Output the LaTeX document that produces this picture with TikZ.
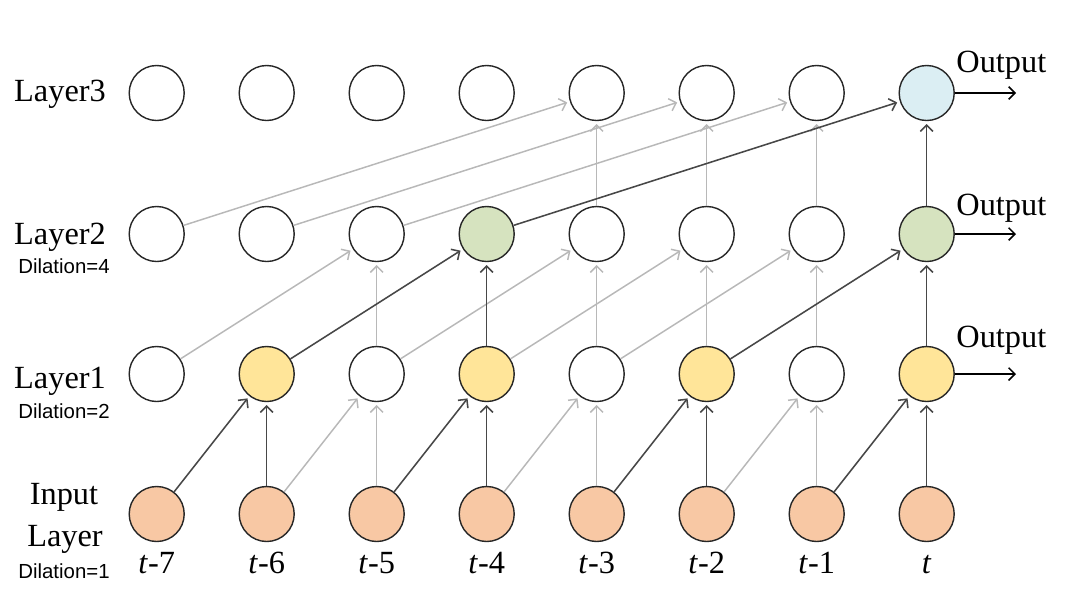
\documentclass[tikz,border=0pt]{standalone}
\usepackage{fontspec}
\setmainfont{Liberation Serif}
\setsansfont{Liberation Sans}
\usetikzlibrary{arrows.meta}
\definecolor{inputfill}{HTML}{F8C8A4}
\definecolor{layeronefill}{HTML}{FFE599}
\definecolor{layertwofill}{HTML}{D6E3BF}
\definecolor{layerthreefill}{HTML}{DBEEF3}

\begin{document}
\begin{tikzpicture}[x=0.025cm,y=-0.025cm,>={Straight Barb[length=4.5pt,width=9pt]},
                    shorten >=2pt,semithick]
  \tikzstyle{unit}=[circle,draw=black!85,fill=white,minimum size=1.375cm,
    inner sep=0pt,line width=1pt]
  \tikzstyle{faint}=[->,draw=black!28,line width=1.05pt]
  \tikzstyle{strong}=[->,draw=black!72,line width=1.1pt]
  \tikzstyle{lbl}=[font=\fontsize{23}{26}\selectfont,anchor=base,inner sep=0pt]
  \tikzstyle{dil}=[font=\sffamily\fontsize{14.5}{16}\selectfont,anchor=base,inner sep=0pt]

  \useasboundingbox (0,0) rectangle (1068,588);

  % units, one row per layer
  \foreach \i/\c in {0/white,1/layeronefill,2/white,3/layeronefill,
                     4/white,5/layeronefill,6/white,7/layeronefill}{
    \node[unit,fill=inputfill] (in\i) at (156.7+110*\i,514) {};
    \node[unit,fill=\c] (ha\i) at (156.7+110*\i,374) {};
  }
  \foreach \i/\c in {0/white,1/white,2/white,3/layertwofill,
                     4/white,5/white,6/white,7/layertwofill}
    \node[unit,fill=\c] (hb\i) at (156.7+110*\i,234) {};
  \foreach \i/\c in {0/white,1/white,2/white,3/white,
                     4/white,5/white,6/white,7/layerthreefill}
    \node[unit,fill=\c] (hc\i) at (156.7+110*\i,93) {};

  % row labels
  \node[lbl] (namec) at (60,101) {Layer3};
  \node[lbl] (nameb) at (60,244) {Layer2};
  \node[dil] (dilb) at (64,273) {Dilation=4};
  \node[lbl] (namea) at (60,388) {Layer1};
  \node[dil] (dila) at (64,418) {Dilation=2};
  \node[lbl] (namein) at (64,504) {Input};
  \node[lbl] (namein2) at (65,546) {Layer};
  \node[dil] (dilin) at (64,578) {Dilation=1};

  % time steps
  \foreach \i/\t in {0/-7,1/-6,2/-5,3/-4,4/-3,5/-2,6/-1}
    \node[lbl] (step\i) at (156.7+110*\i,573) {\textit{t}\t};
  \node[lbl] (step7) at (926.7,573) {\textit{t}};

  % input -> layer1
  \foreach \i in {2,4,6} \draw[faint] (in\i) -- (ha\i);
  \foreach \i/\j in {1/2,3/4,5/6} \draw[faint] (in\i) -- (ha\j);
  \foreach \i in {1,3,5,7} \draw[strong] (in\i) -- (ha\i);
  \foreach \i/\j in {0/1,2/3,4/5,6/7} \draw[strong] (in\i) -- (ha\j);

  % layer1 -> layer2
  \foreach \i in {2,4,5,6} \draw[faint] (ha\i) -- (hb\i);
  \foreach \i/\j in {0/2,2/4,3/5,4/6} \draw[faint] (ha\i) -- (hb\j);
  \foreach \i in {3,7} \draw[strong] (ha\i) -- (hb\i);
  \foreach \i/\j in {1/3,5/7} \draw[strong] (ha\i) -- (hb\j);

  % layer2 -> layer3
  \foreach \i in {4,5,6} \draw[faint] (hb\i) -- (hc\i);
  \foreach \i/\j in {0/4,1/5,2/6} \draw[faint] (hb\i) -- (hc\j);
  \draw[strong] (hb7) -- (hc7);
  \draw[strong] (hb3) -- (hc7);

  % outputs
  \coordinate (outa) at (1016,374);
  \coordinate (outb) at (1016,234);
  \coordinate (outc) at (1016,93);
  \draw[->,black,line width=1.1pt,shorten >=0pt] (ha7) -- (outa);
  \draw[->,black,line width=1.1pt,shorten >=0pt] (hb7) -- (outb);
  \draw[->,black,line width=1.1pt,shorten >=0pt] (hc7) -- (outc);
  \node[lbl,anchor=base west] (texta) at (956,347) {Output};
  \node[lbl,anchor=base west] (textb) at (956,215) {Output};
  \node[lbl,anchor=base west] (textc) at (956,72) {Output};
\end{tikzpicture}
\end{document}
